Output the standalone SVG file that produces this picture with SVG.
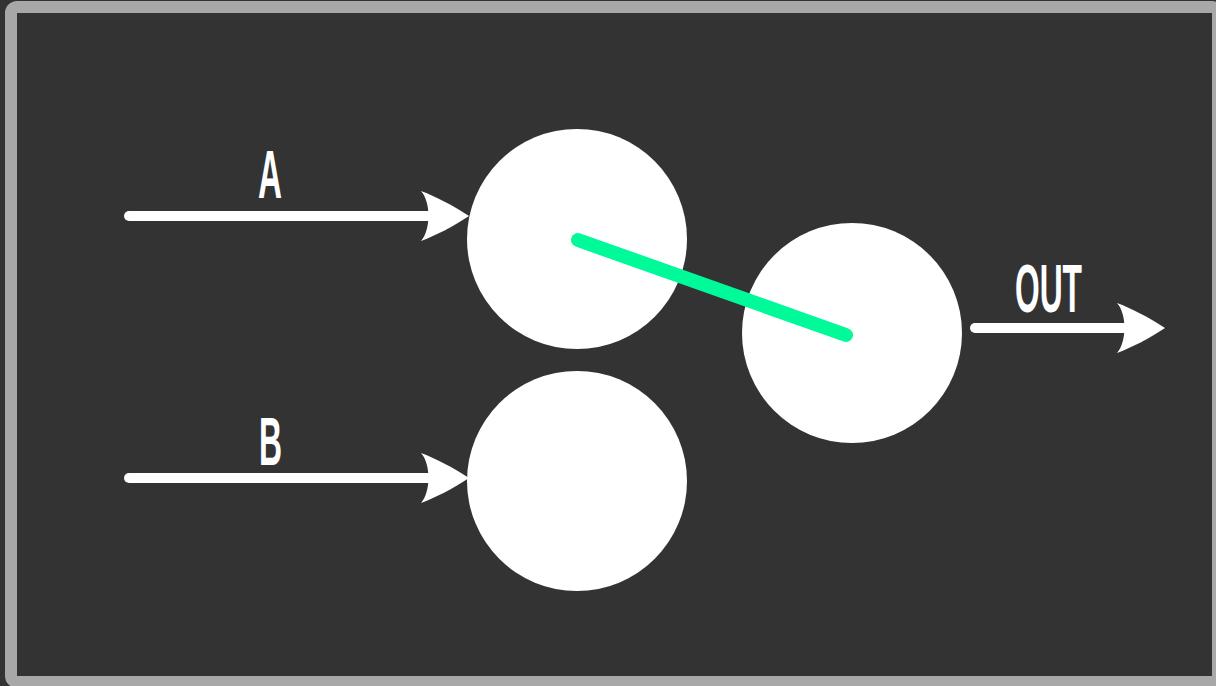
<svg xmlns="http://www.w3.org/2000/svg" width="1216" height="686" viewBox="0 0 1216 686">
<style>
.node{fill:#ffffff}
.shaft{stroke:#ffffff;stroke-width:10;stroke-linecap:round;fill:none}
.head{fill:#ffffff}
.lbl{fill:#ffffff;font-family:"Liberation Sans Narrow","Liberation Sans","DejaVu Sans Condensed",sans-serif;font-weight:bold;font-size:68px}
</style>
<rect x="0" y="0" width="1216" height="686" fill="#333333"/>
<rect x="11" y="7" width="1207" height="675" rx="6" fill="#333333" stroke="#a8a8a8" stroke-width="12"/>
<g id="connectors">
  <g id="arrow-a">
    <line class="shaft" x1="129" y1="216" x2="450" y2="216"/>
    <path class="head" d="M469,216 C452,205 437,197 421,191 C431,202 431,230 421,241 C437,235 452,227 469,216 Z"/>
  </g>
  <g id="arrow-b">
    <line class="shaft" x1="129" y1="478" x2="450" y2="478"/>
    <path class="head" d="M469,478 C452,467 437,459 421,453 C431,464 431,492 421,503 C437,497 452,489 469,478 Z"/>
  </g>
  <g id="arrow-out">
    <line class="shaft" x1="975" y1="328" x2="1146" y2="328"/>
    <path class="head" d="M1165,328 C1148,317 1133,309 1117,303 C1127,314 1127,342 1117,353 C1133,347 1148,339 1165,328 Z"/>
  </g>
</g>
<g id="node-1"><circle class="node" cx="577" cy="239" r="110"/></g>
<g id="node-2"><circle class="node" cx="577" cy="481" r="110"/></g>
<g id="node-3"><circle class="node" cx="852" cy="333" r="110"/></g>
<g id="link"><line x1="578" y1="240" x2="846" y2="335" stroke="#00fa9a" stroke-width="14" stroke-linecap="round"/></g>
<g id="labels">
  <text class="lbl" x="258" y="198" textLength="24" lengthAdjust="spacingAndGlyphs">A</text>
  <text class="lbl" x="259" y="465" textLength="23" lengthAdjust="spacingAndGlyphs">B</text>
  <text class="lbl" x="1015" y="312" textLength="67" lengthAdjust="spacingAndGlyphs">OUT</text>
</g>
</svg>
